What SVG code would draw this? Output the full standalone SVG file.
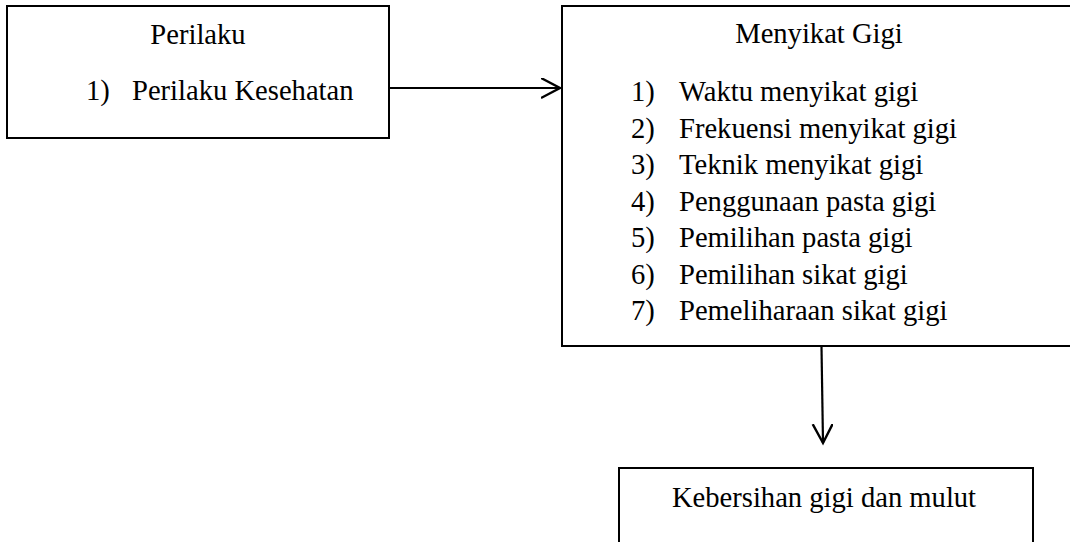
<svg xmlns="http://www.w3.org/2000/svg" width="1070" height="542" viewBox="0 0 1070 542">
<style>
.box{fill:#fff;stroke:#000;stroke-width:2}
.t{font-family:"Liberation Serif","Times New Roman",serif;font-size:28.6px;fill:#000}
.c{text-anchor:middle}
.ln{stroke:#000;stroke-width:2.2;fill:none}
</style>
<defs>
<marker id="arr" markerWidth="24" markerHeight="24" refX="19" refY="10" orient="auto" markerUnits="userSpaceOnUse">
<path d="M0,0 L19,10 L0,20" fill="none" stroke="#000" stroke-width="2.4"/>
</marker>
</defs>
<g id="node-perilaku">
<rect class="box" x="7" y="6" width="382" height="132"/>
<text class="t c" x="198" y="44">Perilaku</text>
<text class="t" x="86" y="100">1)</text>
<text class="t" x="132" y="100">Perilaku Kesehatan</text>
</g>
<g id="node-menyikat">
<rect class="box" x="562" y="6" width="520" height="340"/>
<text class="t c" x="819" y="43">Menyikat Gigi</text>
<g class="t">
<text x="631" y="101">1)</text><text x="679" y="101">Waktu menyikat gigi</text>
<text x="631" y="137.5">2)</text><text x="679" y="137.5">Frekuensi menyikat gigi</text>
<text x="631" y="174">3)</text><text x="679" y="174">Teknik menyikat gigi</text>
<text x="631" y="210.5">4)</text><text x="679" y="210.5">Penggunaan pasta gigi</text>
<text x="631" y="247">5)</text><text x="679" y="247">Pemilihan pasta gigi</text>
<text x="631" y="283.5">6)</text><text x="679" y="283.5">Pemilihan sikat gigi</text>
<text x="631" y="320">7)</text><text x="679" y="320">Pemeliharaan sikat gigi</text>
</g>
</g>
<g id="node-kebersihan">
<rect class="box" x="619" y="468" width="414" height="90"/>
<text class="t c" x="824" y="507">Kebersihan gigi dan mulut</text>
</g>
<g id="connectors">
<line class="ln" x1="390" y1="88" x2="560" y2="88" marker-end="url(#arr)"/>
<line class="ln" x1="821.5" y1="347" x2="823" y2="443" marker-end="url(#arr)"/>
</g>
</svg>
